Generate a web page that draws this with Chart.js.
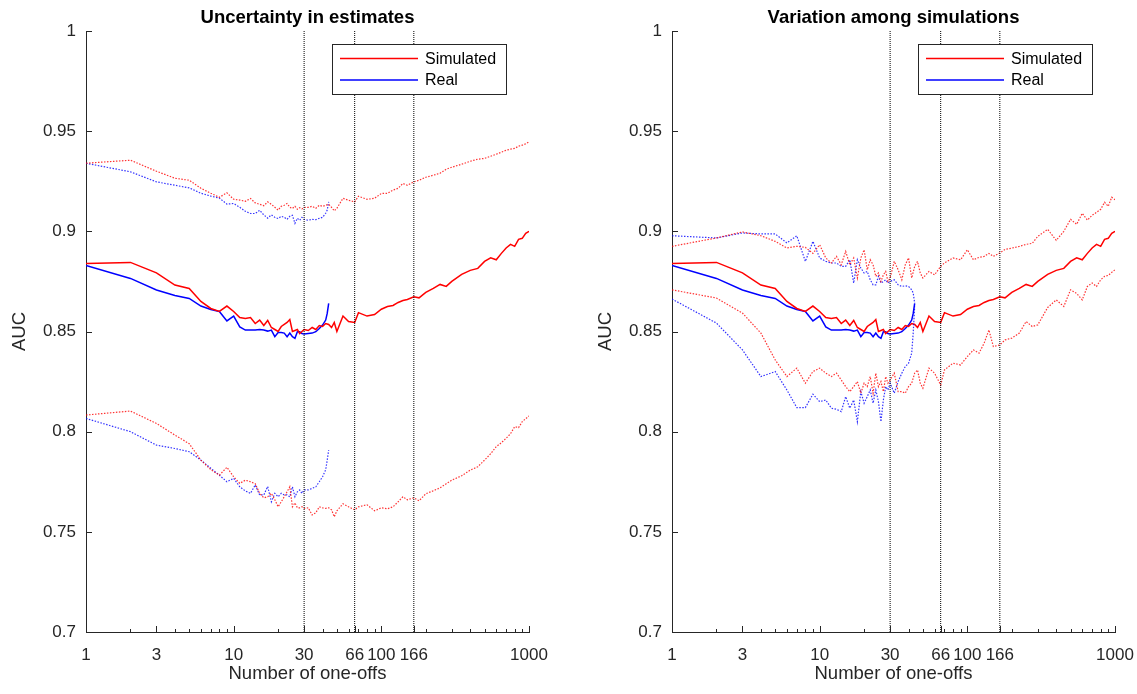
<!DOCTYPE html>
<html>
<head>
<meta charset="utf-8">
<script src="https://cdn.jsdelivr.net/npm/chart.js@4/dist/chart.umd.min.js"></script>
<style>
  html, body { margin: 0; padding: 0; background: #fff; }
  body { width: 1137px; height: 694px; position: relative; overflow: hidden; }
  canvas { position: absolute; top: 0; }
  #left { left: 0; }
  #right { left: 586px; }
</style>
</head>
<body>
<canvas id="left" width="568" height="694"></canvas>
<canvas id="right" width="551" height="694"></canvas>
<script>
// x positions (number of one-offs)
const simX = [1, 2, 3, 4, 5, 6, 7, 8, 9, 10, 11, 12, 13, 14, 15, 16, 17, 18, 19, 20,
  21, 22, 23, 24, 25, 26, 27, 28, 29, 30, 32, 34, 36, 38, 40, 42, 44, 46, 48, 50,
  55, 60, 66, 70, 80, 90, 100, 110, 120, 130, 140, 150, 166, 180, 200,
  225, 250, 275, 300, 350, 400, 450, 500, 550, 600, 650, 700, 750, 800, 850, 900, 950, 1000];
const realX = [1, 2, 3, 4, 5, 6, 7, 8, 9, 10, 11, 12, 13, 14, 15, 16, 17, 18, 19, 20,
  21, 22, 23, 24, 25, 26, 27, 28, 29, 30, 32, 34, 36, 38, 40, 42, 43, 44];

// simulated AUC (mean, shared by both panels)
const simMid = [0.884, 0.8845, 0.8793, 0.8732, 0.8715, 0.865, 0.8615, 0.860, 0.8627, 0.860,
  0.857, 0.8565, 0.857, 0.854, 0.8557, 0.853, 0.8555, 0.852, 0.851, 0.850,
  0.8525, 0.8535, 0.8545, 0.856, 0.850, 0.8505, 0.851, 0.849, 0.850, 0.851,
  0.8505, 0.852, 0.851, 0.853, 0.8525, 0.854, 0.8535, 0.852, 0.8545, 0.850,
  0.8577, 0.855, 0.8545, 0.8594, 0.8577, 0.8585, 0.8611,
  0.8625, 0.863, 0.8645, 0.8655, 0.866, 0.8673, 0.8668, 0.8695,
  0.8715, 0.8735, 0.8725, 0.875, 0.8785, 0.8805, 0.8815, 0.885, 0.8868, 0.8858, 0.889, 0.8917, 0.8935, 0.8925, 0.896, 0.8965, 0.899, 0.900];
// left panel: uncertainty bounds
const simUpL = [0.934, 0.9355, 0.930, 0.9265, 0.9255, 0.9215, 0.919, 0.917, 0.9192, 0.916,
  0.9156, 0.915, 0.9164, 0.9142, 0.9135, 0.9128, 0.9147, 0.9135, 0.912, 0.9106,
  0.9125, 0.913, 0.9139, 0.912, 0.9114, 0.9125, 0.911, 0.9118, 0.9112, 0.9119,
  0.912, 0.9125, 0.9115, 0.913, 0.9125, 0.913, 0.9135, 0.912, 0.9102, 0.9115,
  0.9165, 0.9155, 0.9147, 0.9175, 0.916, 0.9165, 0.9189,
  0.919, 0.9206, 0.9215, 0.9239, 0.923, 0.9247, 0.9255, 0.927,
  0.928, 0.929, 0.931, 0.932, 0.9335, 0.935, 0.936, 0.9364, 0.9375, 0.9385, 0.9395, 0.9405, 0.941, 0.9414, 0.9425, 0.943, 0.9437, 0.9447];
const simLoL = [0.8083, 0.8103, 0.8041, 0.7983, 0.794, 0.7858, 0.781, 0.7783, 0.7822, 0.7775,
  0.7742, 0.7758, 0.775, 0.774, 0.7692, 0.767, 0.7675, 0.7692, 0.766, 0.7625,
  0.765, 0.7675, 0.770, 0.7725, 0.7625, 0.7645, 0.762, 0.762, 0.7625, 0.7617,
  0.762, 0.7584, 0.7595, 0.7625, 0.762, 0.7617, 0.762, 0.761, 0.7575, 0.7605,
  0.764, 0.7625, 0.761, 0.7625, 0.7635, 0.7605, 0.762,
  0.7615, 0.7625, 0.765, 0.7675, 0.766, 0.767, 0.7655, 0.769,
  0.7705, 0.772, 0.774, 0.7758, 0.778, 0.7808, 0.7825, 0.7858, 0.789, 0.7925, 0.7945, 0.7967, 0.799, 0.8025, 0.802, 0.805, 0.8065, 0.8078];
// right panel: variation among simulations
const simUpR = [0.8925, 0.8967, 0.8997, 0.8978, 0.895, 0.8917, 0.8925, 0.892, 0.889, 0.8933,
  0.8867, 0.8842, 0.8875, 0.8833, 0.89, 0.8833, 0.8867, 0.8767, 0.8867, 0.8908,
  0.8808, 0.8858, 0.8833, 0.8775, 0.8792, 0.875, 0.8783, 0.88, 0.875, 0.8767,
  0.885, 0.8808, 0.8758, 0.8833, 0.8867, 0.8767, 0.8825, 0.885, 0.8792, 0.8767,
  0.88, 0.8783, 0.8825, 0.8842, 0.8867, 0.8858, 0.8908,
  0.8858, 0.887, 0.8875, 0.889, 0.8875, 0.8892, 0.891, 0.8916,
  0.8925, 0.8935, 0.894, 0.8975, 0.901, 0.8955, 0.9, 0.906, 0.9035, 0.909, 0.9056, 0.908, 0.9095, 0.911, 0.9145, 0.9125, 0.917, 0.9158];
const simLoR = [0.8708, 0.8667, 0.8592, 0.8492, 0.8358, 0.8275, 0.8317, 0.8242, 0.83, 0.8317,
  0.8292, 0.8275, 0.8292, 0.8258, 0.8225, 0.82, 0.8225, 0.825, 0.8192, 0.8242,
  0.8225, 0.8275, 0.8192, 0.8292, 0.8225, 0.825, 0.82, 0.8275, 0.8242, 0.8258,
  0.8292, 0.82, 0.82, 0.8192, 0.8225, 0.8242, 0.8292, 0.8308, 0.8242, 0.8217,
  0.8317, 0.8292, 0.8233, 0.8308, 0.8342, 0.8333, 0.8375,
  0.8408, 0.8392, 0.8442, 0.8508, 0.8425, 0.8433, 0.8458, 0.8467,
  0.8492, 0.855, 0.8525, 0.8533, 0.862, 0.8658, 0.8625, 0.8708, 0.869, 0.8658, 0.8725, 0.8742, 0.8725, 0.8758, 0.8775, 0.878, 0.8795, 0.8808];

// real AUC
const realMid = [0.883, 0.8765, 0.8707, 0.868, 0.8665, 0.8627, 0.861, 0.860, 0.8553, 0.8577,
  0.8523, 0.8507, 0.8507, 0.8507, 0.851, 0.8507, 0.8502, 0.8507, 0.8474, 0.8495,
  0.8495, 0.8492, 0.8474, 0.8492, 0.8474, 0.8466, 0.8499, 0.8499, 0.849, 0.8487,
  0.849, 0.8492, 0.8499, 0.8515, 0.8532, 0.8557, 0.859, 0.864];
const realUpL = [0.934, 0.9297, 0.9247, 0.923, 0.9217, 0.919, 0.9176, 0.9166, 0.9136, 0.9139,
  0.912, 0.910, 0.9089, 0.9089, 0.9105, 0.9082, 0.9066, 0.9082, 0.907, 0.9064,
  0.9075, 0.907, 0.906, 0.9075, 0.908, 0.904, 0.9065, 0.9055, 0.907, 0.906,
  0.9055, 0.906, 0.9058, 0.9065, 0.907, 0.909, 0.9106, 0.9147];
const realLoL = [0.8066, 0.80, 0.7933, 0.7916, 0.790, 0.7858, 0.7817, 0.7783, 0.775, 0.7767,
  0.7725, 0.7704, 0.7692, 0.7734, 0.7684, 0.7684, 0.7726, 0.765, 0.7692, 0.7675,
  0.7692, 0.7684, 0.7684, 0.7675, 0.7725, 0.7675, 0.770, 0.7709, 0.7692, 0.7709,
  0.7709, 0.7717, 0.7725, 0.775, 0.7775, 0.781, 0.7858, 0.7908];
const realUpR = [0.8978, 0.8967, 0.8992, 0.8987, 0.8987, 0.8942, 0.8978, 0.885, 0.895, 0.8867,
  0.885, 0.8842, 0.8842, 0.8825, 0.8825, 0.8858, 0.8742, 0.8858, 0.8817, 0.8792,
  0.88, 0.8758, 0.8733, 0.8733, 0.8775, 0.8742, 0.875, 0.8758, 0.8742, 0.875,
  0.8758, 0.8733, 0.8725, 0.8728, 0.8725, 0.8708, 0.8692, 0.8642];
const realLoR = [0.8662, 0.8542, 0.8408, 0.8275, 0.83, 0.8208, 0.812, 0.812, 0.8187, 0.815,
  0.8158, 0.8117, 0.8112, 0.81, 0.8175, 0.8117, 0.8158, 0.805, 0.82, 0.8142,
  0.8175, 0.8208, 0.8142, 0.8208, 0.815, 0.805, 0.8158, 0.8225, 0.8208, 0.8242,
  0.8192, 0.825, 0.8292, 0.8325, 0.8342, 0.8392, 0.8492, 0.8625];

// axes
const xTickValues = [1, 2, 3, 4, 5, 6, 7, 8, 9, 10, 20, 30, 40, 50, 60, 66, 70, 80, 90, 100,
  166, 200, 300, 400, 500, 600, 700, 800, 900, 1000];
const xTickLabels = [1, 3, 10, 30, 66, 100, 166, 1000];
const yTickValues = [0.7, 0.75, 0.8, 0.85, 0.9, 0.95, 1];
const markerLines = [30, 66, 166];
const legendNames = ["Simulated", "Real"];
const legendColors = ["#ff0000", "#0000ff"];

const axisColor = "#262626";
const fontFamily = "'Liberation Sans', Arial, sans-serif";
Chart.defaults.font.family = fontFamily;

function pts(xs, ys) {
  return ys.map((y, i) => ({ x: xs[i], y: y }));
}

function solid(xs, ys, color) {
  return { data: pts(xs, ys), borderColor: color, borderWidth: 1.5, pointRadius: 0, fill: false };
}

function dotted(xs, ys, color) {
  return { data: pts(xs, ys), borderColor: color, borderWidth: 1.2, borderDash: [1.5, 1.5], pointRadius: 0, fill: false };
}

function vline(x) {
  return {
    data: [{ x: x, y: 0.7 }, { x: x, y: 1 }],
    borderColor: "#000", borderWidth: 1, borderDash: [1, 1], pointRadius: 0, fill: false,
  };
}

// MATLAB style ticks pointing into the plot
const inwardTicks = {
  id: "inwardTicks",
  afterDraw(chart) {
    const { ctx, chartArea, scales } = chart;
    ctx.save();
    ctx.strokeStyle = axisColor;
    ctx.lineWidth = 1;
    ctx.beginPath();
    scales.x.ticks.forEach((t) => {
      const px = Math.round(scales.x.getPixelForValue(t.value)) + 0.5;
      const len = xTickLabels.includes(t.value) ? 6 : 3;
      ctx.moveTo(px, chartArea.bottom);
      ctx.lineTo(px, chartArea.bottom - len);
    });
    scales.y.ticks.forEach((t) => {
      const py = Math.round(scales.y.getPixelForValue(t.value)) + 0.5;
      ctx.moveTo(chartArea.left, py);
      ctx.lineTo(chartArea.left + 6, py);
    });
    ctx.stroke();
    ctx.restore();
  },
};

const legendBox = {
  id: "legendBox",
  afterDraw(chart) {
    const { ctx, chartArea } = chart;
    const x0 = chartArea.left + 246;
    const y0 = 44;
    ctx.save();
    ctx.fillStyle = "#fff";
    ctx.fillRect(x0, y0, 174, 50);
    ctx.strokeStyle = axisColor;
    ctx.lineWidth = 1;
    ctx.strokeRect(x0 + 0.5, y0 + 0.5, 174, 50);
    legendNames.forEach((name, i) => {
      const y = y0 + 14.5 + i * 21.5;
      ctx.strokeStyle = legendColors[i];
      ctx.lineWidth = 1.5;
      ctx.beginPath();
      ctx.moveTo(x0 + 8, y);
      ctx.lineTo(x0 + 86, y);
      ctx.stroke();
      ctx.fillStyle = "#000";
      ctx.font = "16px " + fontFamily;
      ctx.textBaseline = "middle";
      ctx.fillText(name, x0 + 93, y + 1);
    });
    ctx.restore();
  },
};

function buildChart(id, title, datasets, rightPad) {
  const ctx = document.getElementById(id);
  new Chart(ctx, {
    type: "line",
    data: { datasets: datasets },
    options: {
      responsive: false,
      animation: false,
      layout: { padding: { left: 0, right: rightPad, top: 0, bottom: 0 } },
      plugins: {
        legend: { display: false },
        tooltip: { enabled: false },
        title: {
          display: true,
          fullSize: false,
          text: title,
          color: "#000",
          font: { size: 18.5, weight: "bold" },
          padding: { top: 7, bottom: 1.8 },
        },
      },
      scales: {
        x: {
          type: "logarithmic",
          min: 1,
          max: 1000,
          afterBuildTicks: (s) => {
            s.ticks = xTickValues.map((v) => ({ value: v }));
          },
          afterFit: (s) => {
            s.height = 62;
          },
          ticks: {
            autoSkip: false,
            maxRotation: 0,
            padding: 0,
            color: axisColor,
            font: { size: 17 },
            callback: (v) => (xTickLabels.includes(v) ? String(v) : ""),
          },
          // grid hidden; tick length only used to push the labels down
          grid: { display: false, drawTicks: true, tickLength: 13 },
          border: { color: axisColor, width: 1 },
          title: {
            display: true,
            text: "Number of one-offs",
            color: axisColor,
            font: { size: 18.5 },
            padding: { top: 0, bottom: 9 },
          },
        },
        y: {
          min: 0.7,
          max: 1,
          afterBuildTicks: (s) => {
            s.ticks = yTickValues.map((v) => ({ value: v }));
          },
          afterFit: (s) => {
            s.width = 86;
          },
          ticks: {
            padding: 10,
            color: axisColor,
            font: { size: 17 },
            callback: (v) => String(v),
          },
          grid: { display: false, drawTicks: false },
          border: { color: axisColor, width: 1 },
          title: {
            display: true,
            text: "AUC",
            color: axisColor,
            font: { size: 18.5 },
            padding: { top: 9, bottom: 0 },
          },
        },
      },
    },
    plugins: [inwardTicks, legendBox],
  });
}

const red = "#ff0000";
const blue = "#0000ff";
const redDot = "rgba(255,0,0,0.8)";
const blueDot = "rgba(0,0,255,0.8)";

buildChart("left", "Uncertainty in estimates", [
  ...markerLines.map(vline),
  dotted(simX, simUpL, redDot),
  dotted(simX, simLoL, redDot),
  dotted(realX, realUpL, blueDot),
  dotted(realX, realLoL, blueDot),
  solid(simX, simMid, red),
  solid(realX, realMid, blue),
], 39);

buildChart("right", "Variation among simulations", [
  ...markerLines.map(vline),
  dotted(simX, simUpR, redDot),
  dotted(simX, simLoR, redDot),
  dotted(realX, realUpR, blueDot),
  dotted(realX, realLoR, blueDot),
  solid(simX, simMid, red),
  solid(realX, realMid, blue),
], 22);
</script>
</body>
</html>
